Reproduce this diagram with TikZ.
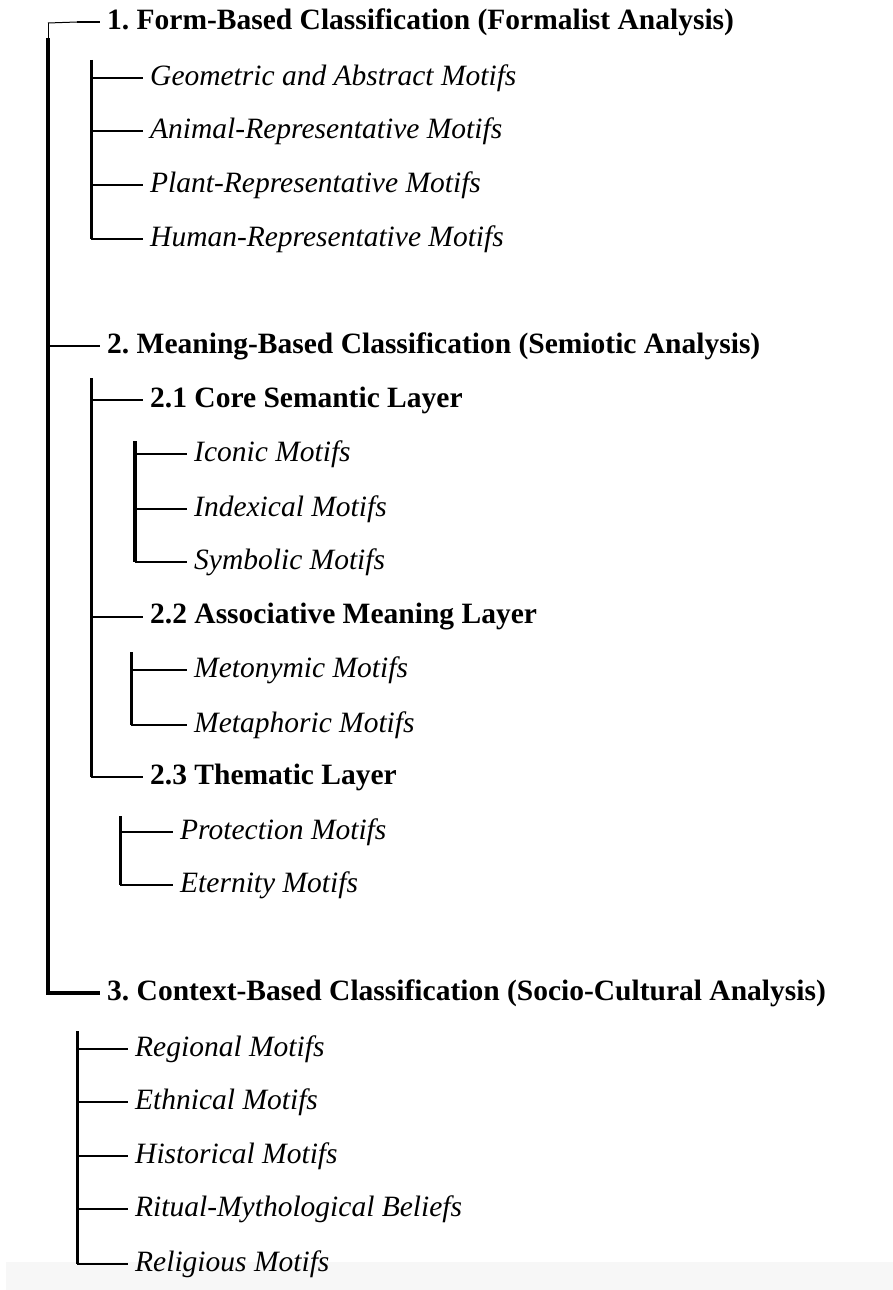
\documentclass[tikz,border=0pt]{standalone}
\usepackage{fontspec}
\setmainfont{Liberation Serif}
\begin{document}
\begin{tikzpicture}[x=1pt,y=-1pt,
  hd/.style={anchor=west,inner xsep=7pt,inner ysep=0pt,font=\fontsize{29.5}{32}\selectfont\bfseries},
  it/.style={anchor=west,inner xsep=7pt,inner ysep=0pt,font=\fontsize{29.5}{32}\selectfont\itshape},
  trunk/.style={line width=4pt},
  vline/.style={line width=3pt},
  hline/.style={line width=2pt}]
\useasboundingbox (0,0) rectangle (893,1290);
\fill[black!3] (6,1262) rectangle (893,1290);
% level 0 headings
\node[hd] (h1) at (100,22) {1.\ Form-Based Classification (Formalist Analysis)};
\node[hd] (h2) at (100,346) {2.\ Meaning-Based Classification (Semiotic Analysis)};
\node[hd] (h3) at (100,993) {3.\ Context-Based Classification (Socio-Cultural Analysis)};
% group 1
\node[it] (geo) at (143,78) {Geometric and Abstract Motifs};
\node[it] (ani) at (143,131) {Animal-Representative Motifs};
\node[it] (pla) at (143,185) {Plant-Representative Motifs};
\node[it] (hum) at (143,239) {Human-Representative Motifs};
% group 2
\node[hd] (h21) at (143,400) {2.1 Core Semantic Layer};
\node[it] (ico) at (187,454) {Iconic Motifs};
\node[it] (ind) at (187,509) {Indexical Motifs};
\node[it] (sym) at (187,562) {Symbolic Motifs};
\node[hd] (h22) at (143,617) {2.2 Associative Meaning Layer};
\node[it] (met) at (187,670) {Metonymic Motifs};
\node[it] (mph) at (187,725) {Metaphoric Motifs};
\node[hd] (h23) at (143,777) {2.3 Thematic Layer};
\node[it] (pro) at (173,832) {Protection Motifs};
\node[it] (ete) at (173,885) {Eternity Motifs};
% group 3
\node[it] (reg) at (128,1049) {Regional Motifs};
\node[it] (eth) at (128,1102) {Ethnical Motifs};
\node[it] (his) at (128,1156) {Historical Motifs};
\node[it] (rit) at (128,1209) {Ritual-Mythological Beliefs};
\node[it] (rel) at (128,1264) {Religious Motifs};
% trunk
\coordinate (t0) at (48,23);
\coordinate (t1) at (48,38);
\coordinate (td) at (77,22);
\draw[line width=1pt] (t0) -- (td);
\draw[line width=1pt] (t0) -- (t1);
\draw[hline] (td) -- (h1.west);
\draw[trunk] (t1) -- (t1 |- h3.west) -- (h3.west);
\draw[hline] (t1 |- h2.west) -- (h2.west);
% group 1
\coordinate (g1) at (91,60);
\draw[vline] (g1) -- (g1 |- hum.west);
\foreach \n in {geo,ani,pla,hum} \draw[hline] (g1 |- \n.west) -- (\n.west);
% group 2
\coordinate (g2) at (91,378);
\draw[vline] (g2) -- (g2 |- h23.west);
\foreach \n in {h21,h22,h23} \draw[hline] (g2 |- \n.west) -- (\n.west);
\coordinate (g21) at (135,441);
\draw[trunk] (g21) -- (g21 |- sym.west);
\foreach \n in {ico,ind,sym} \draw[hline] (g21 |- \n.west) -- (\n.west);
\coordinate (g22) at (131,652);
\draw[vline] (g22) -- (g22 |- mph.west);
\foreach \n in {met,mph} \draw[hline] (g22 |- \n.west) -- (\n.west);
\coordinate (g23) at (120,816);
\draw[vline] (g23) -- (g23 |- ete.west);
\foreach \n in {pro,ete} \draw[hline] (g23 |- \n.west) -- (\n.west);
% group 3
\coordinate (g3) at (77,1031);
\draw[vline] (g3) -- (g3 |- rel.west);
\foreach \n in {reg,eth,his,rit,rel} \draw[hline] (g3 |- \n.west) -- (\n.west);
\end{tikzpicture}
\end{document}
